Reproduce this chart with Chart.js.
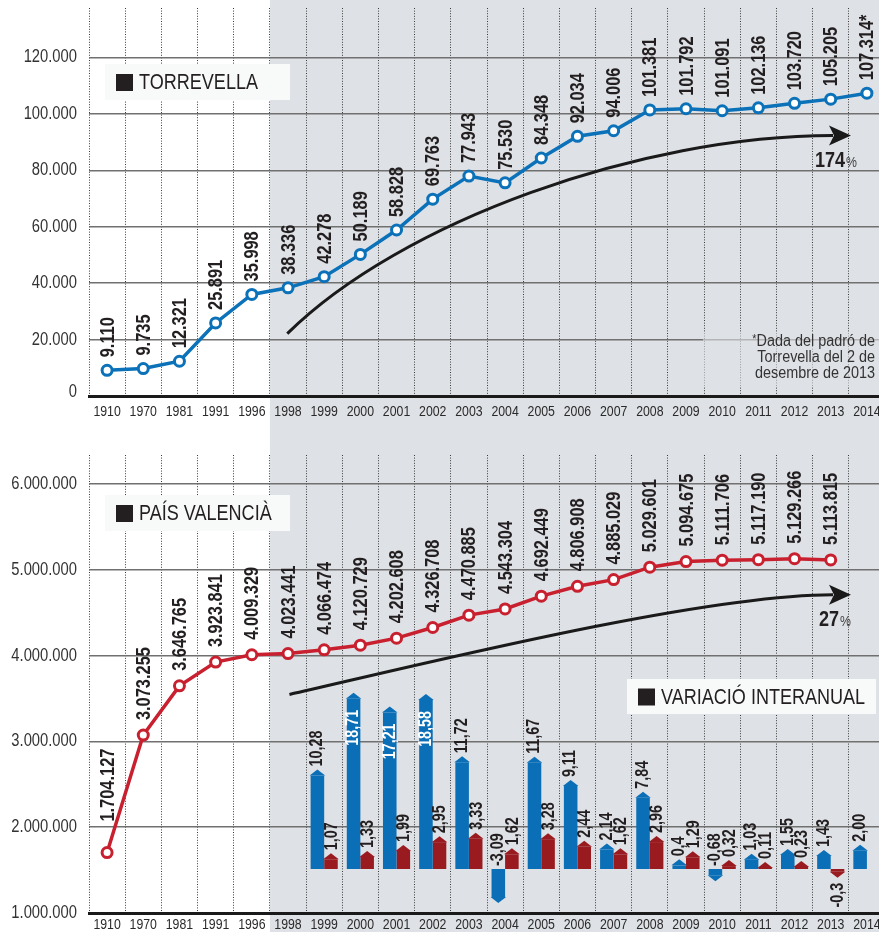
<!DOCTYPE html>
<html>
<head>
<meta charset="utf-8">
<script src="https://cdn.jsdelivr.net/npm/chart.js@4.4.1/dist/chart.umd.min.js"></script>
<style>
  html, body { margin: 0; padding: 0; background: #fff; overflow: hidden; }
  #wrap { position: relative; width: 879px; height: 932px; overflow: hidden; }
  .panel { position: absolute; left: 0; width: 893px; }
  #p1 { top: 0; height: 445px; }
  #p2 { top: 445px; height: 487px; }
</style>
</head>
<body>
<div id="wrap">
  <div class="panel" id="p1"><canvas id="graficTorrevella"></canvas></div>
  <div class="panel" id="p2"><canvas id="graficPV"></canvas></div>
</div>
<script>
// anys del padró
const anys = ['1910', '1970', '1981', '1991', '1996', '1998', '1999', '2000', '2001', '2002', '2003',
              '2004', '2005', '2006', '2007', '2008', '2009', '2010', '2011', '2012', '2013', '2014'];

// població de Torrevella
const torrevella = [9110, 9735, 12321, 25891, 35998, 38336, 42278, 50189, 58828, 69763, 77943,
                    75530, 84348, 92034, 94006, 101381, 101792, 101091, 102136, 103720, 105205, 107314];

// població del País Valencià (2014 sense dada)
const paisValencia = [1704127, 3073255, 3646765, 3923841, 4009329, 4023441, 4066474, 4120729, 4202608,
                      4326708, 4470885, 4543304, 4692449, 4806908, 4885029, 5029601, 5094675, 5111706,
                      5117190, 5129266, 5113815, null];

// variació interanual (%)
const anysVariacio = ['1999', '2000', '2001', '2002', '2003', '2004', '2005', '2006',
                      '2007', '2008', '2009', '2010', '2011', '2012', '2013', '2014'];
const variacioTorrevella = ['10,28', '18,71', '17,21', '18,58', '11,72', '-3,09', '11,67', '9,11',
                            '2,14', '7,84', '0,4', '-0,68', '1,03', '1,55', '1,43', '2,00'];
const variacioPV = ['1,07', '1,33', '1,99', '2,95', '3,33', '1,62', '3,28', '2,44',
                    '1,62', '2,96', '1,29', '0,32', '0,11', '0,23', '-0,3', null];

const eixTorrevella = [0, 20000, 40000, 60000, 80000, 100000, 120000];
const eixPV = [1000000, 2000000, 3000000, 4000000, 5000000, 6000000];

const FONT = '"Liberation Sans", Arial, sans-serif';
const ESTRET = 0.82;   // la tipografia original és estreta
const GRIS = '#dee1e5';
const BLAU = '#0b72b9';
const ROIG = '#c8202f';
const BLAU_BARRA = '#0a6fb7';
const ROIG_BARRA = '#991b20';

function puntMilers(v) {
    return String(v).replace(/\B(?=(\d{3})+(?!\d))/g, '.');
}

function aNumero(txt) {
    return txt === null ? null : parseFloat(txt.replace(',', '.'));
}

// posem la variació al seu any dins de l'eix complet
function perAny(valors) {
    return anys.map(a => {
        const i = anysVariacio.indexOf(a);
        return i < 0 ? null : aNumero(valors[i]);
    });
}

// escriu text estret, opcionalment en vertical
function escriu(ctx, txt, x, y, o) {
    ctx.save();
    ctx.translate(x, y);
    if (o.vertical) ctx.rotate(-Math.PI / 2);
    ctx.scale(o.estret || ESTRET, 1);
    ctx.font = (o.bold ? 'bold ' : '') + o.mida + 'px ' + FONT;
    ctx.fillStyle = o.color || '#231f20';
    ctx.textAlign = o.alinea || 'left';
    ctx.textBaseline = o.base || 'middle';
    ctx.fillText(txt, 0, 0);
    const w = ctx.measureText(txt).width * (o.estret || ESTRET);
    ctx.restore();
    return w;
}

// franja grisa a partir de 1998
const franja = {
    id: 'franja',
    beforeDraw(chart) {
        const x = chart.scales.x;
        const inici = (x.getPixelForValue(4) + x.getPixelForValue(5)) / 2;
        const ctx = chart.ctx;
        ctx.save();
        ctx.fillStyle = GRIS;
        ctx.fillRect(inici, 0, chart.width - inici, chart.height);
        ctx.restore();
    }
};

// rètols dels eixos
const rotuls = {
    id: 'rotuls',
    afterDraw(chart, args, opts) {
        const ctx = chart.ctx;
        const x = chart.scales.x, y = chart.scales.y;
        y.ticks.forEach((t, i) => {
            const py = y.getPixelForTick(i) - (i === 0 ? opts.primer : 0);
            escriu(ctx, puntMilers(t.value), y.right - 12, py, { mida: 18, alinea: 'right', color: '#333' });
        });
        x.ticks.forEach((t, i) => {
            escriu(ctx, x.getLabelForValue(t.value), x.getPixelForTick(i), x.top + opts.dy,
                   { mida: 15, alinea: 'center', color: '#2a2a2a' });
        });
    }
};

// caixes de títol blanques
const caixes = {
    id: 'caixes',
    beforeDatasetsDraw(chart, args, opts) {
        const ctx = chart.ctx;
        (opts.llista || []).forEach(c => {
            ctx.save();
            if (c.vel) {
                ctx.fillStyle = c.vel;
                ctx.fillRect(c.x, c.y, c.w, c.h);
                ctx.restore();
                return;
            }
            ctx.fillStyle = '#f8f9f9';
            ctx.fillRect(c.x, c.y, c.w, c.h);
            ctx.fillStyle = '#231f20';
            ctx.fillRect(c.x + 11, c.y + c.h / 2 - 8, 17, 17);
            ctx.restore();
            escriu(ctx, c.text, c.x + 34, c.y + c.h / 2 + 1, { mida: 22 });
        });
    }
};

// fletxa corba amb el percentatge
const fletxa = {
    id: 'fletxa',
    afterDatasetsDraw(chart, args, opts) {
        if (!opts.punts) return;
        const x = chart.scales.x, y = chart.scales.y, ctx = chart.ctx;
        const p = opts.punts.map(q => [x.getPixelForValue(q[0]), y.getPixelForValue(q[1])]);
        const punta = p[3];
        const base = [punta[0] - 22, punta[1]];
        ctx.save();
        ctx.strokeStyle = '#1a1a1a';
        ctx.lineWidth = 3;
        ctx.beginPath();
        ctx.moveTo(p[0][0], p[0][1]);
        ctx.bezierCurveTo(p[1][0], p[1][1], p[2][0], p[2][1], base[0] + 4, base[1]);
        ctx.stroke();
        ctx.fillStyle = '#1a1a1a';
        ctx.beginPath();
        ctx.moveTo(punta[0], punta[1]);
        ctx.lineTo(base[0], base[1] - 10);
        ctx.lineTo(base[0] + 5, base[1]);
        ctx.lineTo(base[0], base[1] + 10);
        ctx.closePath();
        ctx.fill();
        ctx.restore();
        // percentatge
        const xt = punta[0] - 6 + opts.dx;
        escriu(ctx, opts.pct, xt, punta[1] + 25, { mida: 22, bold: true, alinea: 'right' });
        escriu(ctx, '%', xt + 1, punta[1] + 27, { mida: 15, color: '#444' });
    }
};

// etiquetes verticals dels punts
const etiquetes = {
    id: 'etiquetes',
    afterDatasetsDraw(chart, args, opts) {
        const ctx = chart.ctx;
        const meta = chart.getDatasetMeta(0);
        const dades = chart.data.datasets[0].data;
        meta.data.forEach((pt, i) => {
            if (dades[i] === null) return;
            const sep = (opts.primera && i === 0) ? opts.primera : opts.sep;
            let txt = puntMilers(dades[i]);
            if (opts.asterisc && i === dades.length - 1) txt += '*';
            escriu(ctx, txt, pt.x + 1, pt.y - sep, { mida: 20, bold: true, vertical: true });
        });
    }
};

// puntes de fletxa i etiquetes de les barres
const barres = {
    id: 'barres',
    afterDatasetsDraw(chart) {
        const ctx = chart.ctx;
        const zero = chart.scales.y2.getPixelForValue(0);
        [[1, variacioTorrevella, true], [2, variacioPV, false]].forEach(([d, textos, blau]) => {
            const meta = chart.getDatasetMeta(d);
            const color = chart.data.datasets[d].backgroundColor;
            meta.data.forEach((b, i) => {
                const k = anysVariacio.indexOf(anys[i]);
                if (k < 0 || textos[k] === null) return;
                const v = aNumero(textos[k]);
                const w = b.width / 2 + 1;
                const cap = v >= 0 ? -6 : 6;
                ctx.save();
                ctx.fillStyle = color;
                ctx.beginPath();
                ctx.moveTo(b.x - w, b.y);
                ctx.lineTo(b.x + w, b.y);
                ctx.lineTo(b.x, b.y + cap);
                ctx.closePath();
                ctx.fill();
                ctx.restore();
                let ty, alinea = 'left', color2 = '#231f20';
                if (v > 15) {
                    color2 = '#fff'; ty = b.y + 11; alinea = 'right';
                } else if (v >= 0) {
                    ty = b.y + cap - 3;
                } else if (blau) {
                    ty = zero - 3;
                } else {
                    ty = b.y + cap + 5; alinea = 'right';
                }
                escriu(ctx, textos[k], b.x + (blau ? 0 : 1), ty,
                       { mida: 17.5, bold: true, vertical: true, alinea: alinea, color: color2 });
            });
        });
    }
};

// nota al peu de Torrevella
const nota = {
    id: 'nota',
    afterDatasetsDraw(chart, args, opts) {
        if (!opts.linies) return;
        const ctx = chart.ctx;
        const dreta = 875;
        let w = 0;
        opts.linies.forEach((l, i) => {
            const wl = escriu(ctx, l, dreta, 342 + i * 16, { mida: 16, estret: 0.9, alinea: 'right', color: '#333' });
            if (i === 0) w = wl;
        });
        escriu(ctx, '*', dreta - w, 340, { mida: 12, estret: 0.9, alinea: 'right', color: '#333' });
    }
};

function eixX(alt) {
    return {
        type: 'category',
        offset: true,
        grid: { offset: true, color: '#3a3a3a', lineWidth: 1, drawTicks: false },
        border: { display: true, color: '#1a1a1a', width: 3, dash: [1, 1.6] },
        ticks: { display: false, autoSkip: false },
        afterFit(s) { s.height = alt; }
    };
}

function eixY(min, max, marques) {
    return {
        min: min, max: max,
        afterBuildTicks(s) { s.ticks = marques.map(v => ({ value: v })); },
        ticks: { display: false },
        grid: { color: '#707070', lineWidth: 1.5, drawTicks: false },
        border: { display: false },
        afterFit(s) { s.width = 89; }
    };
}

const comu = {
    responsive: true,
    maintainAspectRatio: false,
    animation: false,
    events: []
};

const puntLinia = (color) => ({
    borderColor: color,
    borderWidth: 3.5,
    pointRadius: 5,
    pointBorderWidth: 3,
    pointBackgroundColor: '#fff',
    pointBorderColor: color,
    tension: 0
});

new Chart(document.getElementById('graficTorrevella'), {
    type: 'line',
    data: {
        labels: anys,
        datasets: [Object.assign({ label: 'Torrevella', data: torrevella }, puntLinia(BLAU))]
    },
    options: Object.assign({}, comu, {
        layout: { padding: { top: 5, left: 0, right: 0, bottom: 0 } },
        scales: {
            x: eixX(49),
            y: eixY(0, 137500, eixTorrevella)
        },
        plugins: {
            legend: { display: false },
            tooltip: { enabled: false },
            rotuls: { dy: 16, primer: 4 },
            caixes: { llista: [
                { text: 'TORREVELLA', x: 105, y: 64, w: 185, h: 36 },
                { vel: 'rgba(222,225,229,0.6)', x: 703, y: 333, w: 190, h: 53 }
            ] },
            fletxa: { punts: [[4.98, 22100], [8.11, 61750], [14.75, 92300], [20.56, 92300]], pct: '174', dx: 0 },
            etiquetes: { sep: 13, asterisc: true },
            nota: { linies: ['Dada del padró de', 'Torrevella del 2 de', 'desembre de 2013'] }
        }
    }),
    plugins: [franja, caixes, fletxa, etiquetes, nota, rotuls]
});

new Chart(document.getElementById('graficPV'), {
    type: 'line',
    data: {
        labels: anys,
        datasets: [
            Object.assign({ label: 'País Valencià', data: paisValencia, order: 0 }, puntLinia(ROIG)),
            { type: 'bar', label: 'Variació Torrevella', data: perAny(variacioTorrevella), yAxisID: 'y2',
              backgroundColor: BLAU_BARRA, categoryPercentage: 0.75, barPercentage: 1, order: 1 },
            { type: 'bar', label: 'Variació País Valencià', data: perAny(variacioPV), yAxisID: 'y2',
              backgroundColor: ROIG_BARRA, categoryPercentage: 0.75, barPercentage: 1, order: 1 }
        ]
    },
    options: Object.assign({}, comu, {
        layout: { padding: { top: 10, left: 0, right: 0, bottom: 0 } },
        scales: {
            x: eixX(19),
            y: eixY(1000000, 6337000, eixPV),
            y2: { display: false, min: -4.835, max: 45.5 }
        },
        plugins: {
            legend: { display: false },
            tooltip: { enabled: false },
            rotuls: { dy: 12, primer: 0 },
            caixes: { llista: [
                { text: 'PAÍS VALENCIÀ', x: 105, y: 50, w: 185, h: 36 },
                { text: 'VARIACIÓ INTERANUAL', x: 627, y: 234, w: 249, h: 35 }
            ] },
            fletxa: { punts: [[5.04, 3547000], [8.66, 3895000], [16.41, 4709000], [20.56, 4709000]], pct: '27', dx: -6 },
            etiquetes: { sep: 15, primera: 31 }
        }
    }),
    plugins: [franja, caixes, fletxa, etiquetes, barres, rotuls]
});
</script>
</body>
</html>
